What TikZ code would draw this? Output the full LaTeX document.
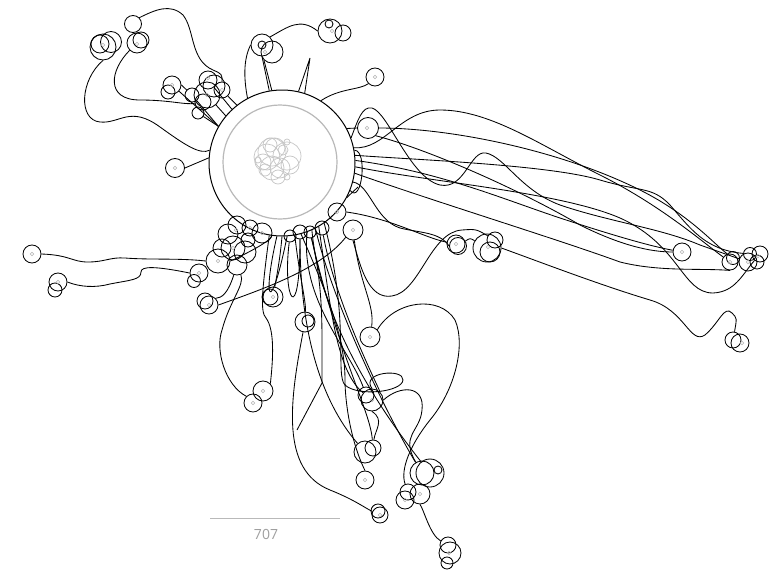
\documentclass[tikz,border=0pt]{standalone}
\usepackage{fontspec}
\newfontfamily\labfont{Open Sans}
\newcommand\blobat[4]{\node[blob,minimum size=#4pt] (#1) at (#2,#3) {};}
\newcommand\dotat[3]{\node[gdot] (#1) at (#2,#3) {};}
\begin{document}
\begin{tikzpicture}[x=1pt,y=-1pt,
  blob/.style={circle,draw=black,line width=0.85pt,inner sep=0pt},
  gdot/.style={circle,draw=gray!60,line width=0.5pt,inner sep=0pt,minimum size=3.4pt},
  wire/.style={draw=black,line width=0.85pt},
  ghost/.style={draw=gray!45,line width=0.7pt}]
\useasboundingbox (0,0) rectangle (774,573);
\fill[white] (0,0) rectangle (774,573);

% hub
\node[circle,draw,line width=1pt,minimum size=146pt,inner sep=0pt] (hub) at (282,163) {};
\node[circle,draw=gray!55,line width=1.2pt,minimum size=114pt,inner sep=0pt] (inner) at (280,162) {};
\foreach \x/\y/\r in {275/148/10,272/152/14,267/157/13,287/156/14,280/168/10,272/168/12,263/162/8,287/142/3,258/160/3,287/177/3,278/177/7,270/145/7,290/165/9,265/170/6,283/150/5}
  \draw[ghost] (\x,\y) circle[radius=\r pt];

% clusters
\blobat{a1}{103}{47}{26}\blobat{a2}{111}{42}{21}\blobat{a3}{100}{44}{18}\dotat{da}{103}{45}
\blobat{b1}{133}{24}{17}\blobat{b2}{137}{43}{20}\blobat{b3}{141}{40}{16}\dotat{db}{137}{44}
\blobat{c1}{172}{85}{18}\blobat{c2}{168}{92}{14}\dotat{dc}{172}{85}
\blobat{d1}{207}{95}{26}\blobat{d2}{208}{80}{18}\blobat{d3}{222}{90}{16}\blobat{d4}{203}{102}{16}\blobat{d5}{198}{113}{12}\blobat{d6}{192}{95}{14}\blobat{d7}{214}{86}{22}
\dotat{dd1}{207}{95}\dotat{dd2}{208}{78}\dotat{dd3}{222}{90}
\blobat{t1}{262}{45}{22}\blobat{t2}{272}{52}{22}\blobat{t3}{262}{45}{8}\dotat{dt}{265}{52}
\blobat{e1}{330}{31}{24}\blobat{e2}{343}{33}{16}\blobat{e3}{329}{24}{8}\dotat{de}{332}{31}
\blobat{f1}{375}{77}{18}\dotat{df}{375}{77}
\blobat{g1}{175}{168}{19}\dotat{dg}{175}{168}
\blobat{h1}{368}{128}{21}\dotat{dh}{367}{128}
\blobat{j1}{353}{230}{20}\dotat{dj1}{353}{230}
\blobat{j2}{337}{212}{18}\dotat{dj2}{337}{212}
\blobat{k1}{456}{244}{18}\blobat{k2}{458}{246}{17}\dotat{dk}{456}{244}
\blobat{l1}{487}{248}{28}\blobat{l2}{495}{240}{16}\blobat{l3}{490}{252}{20}\dotat{dl}{488}{247}
\blobat{m1}{682}{252}{18}\dotat{dm}{682}{252}
\blobat{n1}{730}{262}{16}\blobat{n2}{733}{258}{13}\blobat{n3}{748}{262}{18}\blobat{n4}{750}{254}{13}\blobat{n5}{760}{254}{16}\blobat{n6}{757}{262}{14}
\dotat{dn1}{730}{262}\dotat{dn2}{748}{262}\dotat{dn3}{758}{256}
\blobat{o1}{740}{343}{18}\blobat{o2}{733}{340}{16}\dotat{do}{742}{343}
\blobat{p1}{32}{254}{18}\dotat{dp}{32}{254}
\blobat{q1}{58}{282}{18}\blobat{q2}{55}{290}{14}\dotat{dq}{58}{282}
\blobat{r1}{199}{273}{18}\blobat{r2}{194}{281}{13}\dotat{dr}{199}{273}
\blobat{s1}{218}{261}{24}\dotat{ds}{218}{261}
\blobat{w1}{209}{305}{18}\blobat{w2}{205}{301}{16}\dotat{dw}{209}{305}
\blobat{u1}{273}{297}{20}\blobat{u2}{270}{297}{16}\dotat{du}{273}{297}
\blobat{v1}{305}{322}{20}\blobat{v2}{308}{321}{12}
\blobat{x1}{370}{337}{20}\dotat{dx}{370}{337}
\blobat{y1}{263}{391}{20}\blobat{y2}{253}{403}{18}\dotat{dy1}{263}{391}\dotat{dy2}{253}{403}
\blobat{z1}{372}{400}{22}\blobat{z2}{366}{395}{16}\dotat{dz}{372}{400}
\blobat{aa1}{365}{452}{22}\blobat{aa2}{373}{448}{16}
\blobat{ab1}{365}{480}{18}\dotat{dab}{365}{480}
\blobat{ac1}{430}{473}{28}\blobat{ac2}{422}{473}{24}\blobat{ac3}{438}{470}{8}
\blobat{ad1}{405}{500}{18}\blobat{ad2}{420}{494}{20}\blobat{ad3}{408}{492}{16}\dotat{dad1}{405}{500}\dotat{dad2}{420}{494}
\blobat{ae1}{380}{515}{16}\blobat{ae2}{378}{511}{14}\dotat{dae}{380}{515}
\blobat{af1}{448}{545}{16}\blobat{af2}{450}{553}{22}\blobat{af3}{447}{563}{12}\dotat{daf}{449}{553}
% clusters under hub
\blobat{h2}{262}{233}{20}\blobat{h3}{233}{248}{24}\blobat{h4}{237}{265}{20}\blobat{h5}{237}{225}{18}
\blobat{h6}{250}{228}{16}\blobat{h7}{248}{240}{14}\blobat{h8}{300}{232}{14}\blobat{h9}{310}{232}{12}\blobat{h10}{322}{228}{14}
\blobat{h11}{222}{248}{18}\blobat{h12}{245}{252}{22}\blobat{h13}{228}{234}{20}\blobat{h14}{290}{236}{12}
\dotat{dh2}{262}{233}\dotat{dh3}{233}{248}\dotat{dh6}{250}{228}\dotat{dh13}{236}{230}

% right group
\draw[wire] (h1.east) .. controls (450,128) and (560,150) .. (640,190) .. controls (690,215) and (715,245) .. (n2);
\draw[wire] (hub.12) .. controls (385,150) and (400,110) .. (440,110) .. controls (490,110) and (540,145) .. (600,175) .. controls (660,205) and (700,240) .. (n1);
\draw[wire] (hub.20) .. controls (358,120) and (362,106) .. (372,108) .. controls (388,112) and (410,178) .. (440,185) .. controls (465,190) and (470,150) .. (486,153) .. controls (505,157) and (520,190) .. (560,205) .. controls (610,222) and (660,228) .. (700,245) .. controls (720,252) .. (n3);
\draw[wire] (hub.6) .. controls (420,160) and (550,165) .. (600,180) .. controls (640,192) and (652,186) .. (670,205) .. controls (690,228) and (705,250) .. (n4);
\draw[wire] (hub.2) .. controls (440,172) and (500,198) .. (560,218) .. controls (615,236) and (650,246) .. (m1);
\draw[wire] (hub.-3) .. controls (430,182) and (560,192) .. (620,218) .. controls (680,245) and (682,293) .. (713,293) .. controls (735,292) and (742,275) .. (n5);
\draw[wire] (hub.-8) .. controls (430,200) and (560,240) .. (620,262) .. controls (660,272) and (700,268) .. (n1.south);
\draw[wire] (h1.south east) .. controls (430,150) and (520,190) .. (580,225) .. controls (620,245) and (650,252) .. (m1.west);
\draw[wire] (j2.east) .. controls (390,218) and (425,238) .. (k1);
\draw[wire] (hub.-15) .. controls (370,185) and (375,220) .. (400,228) .. controls (420,233) and (440,232) .. (k2.west);
\draw[wire] (k2) .. controls (470,238) .. (l1);
\draw[wire] (j1.south) .. controls (360,265) and (368,300) .. (392,296) .. controls (420,292) and (430,232) .. (462,230) .. controls (476,229) .. (l2);
\draw[wire] (l1.east) .. controls (540,262) and (600,285) .. (650,300) .. controls (685,310) and (690,345) .. (705,335) .. controls (720,322) and (724,305) .. (732,313) .. controls (737,318) .. (o2);
\draw[wire] (x1.north east) .. controls (395,300) and (440,295) .. (455,320) .. controls (466,345) and (455,390) .. (430,420) .. controls (410,445) and (400,470) .. (ad3);

% left group
\draw[wire] (p1.east) .. controls (70,255) and (72,262) .. (88,262) .. controls (105,262) and (110,257) .. (125,258) .. controls (150,260) and (180,258) .. (s1.west);
\draw[wire] (q1.east) .. controls (80,287) and (95,288) .. (110,284) .. controls (130,280) and (141,280) .. (141,272) .. controls (141,266) and (155,266) .. (r1.west);
\draw[wire] (w1.north east) .. controls (222,298) and (228,293) .. (h4);
\draw[wire] (s1.east) .. controls (250,252) and (272,240) .. (hub.-98);
\draw[wire] (w1.east) .. controls (260,290) and (320,270) .. (j1.south west);
\draw[wire] (a1.south) .. controls (80,80) and (78,120) .. (100,122) .. controls (120,124) and (130,105) .. (160,127) .. controls (185,145) and (200,155) .. (hub.170);
\draw[wire] (b2.south west) .. controls (110,70) and (105,100) .. (140,100) .. controls (170,100) and (185,105) .. (d4);
\draw[wire] (b1.north east) .. controls (155,10) and (170,3) .. (183,15) .. controls (195,30) and (190,60) .. (213,70) .. controls (222,74) .. (d3);
\draw[wire] (c1.east) -- (d6);
\draw[wire] (c1) -- (hub.150);
\draw[wire] (d5) -- (hub.150);
\draw[wire] (d6) -- (hub.150);
\draw[wire] (d1) -- (hub.140);
\draw[wire] (d3) -- (hub.128);
\draw[wire] (d2) -- (hub.133);

% top
\draw[wire] (t1.west) .. controls (243,60) and (244,80) .. (hub.118);
\draw[wire] (t1.south) -- (hub.100);
\draw[wire] (t2.south west) -- (hub.98);
\draw[wire] (t1.north east) .. controls (288,27) and (300,17) .. (e1.west);
\coordinate (spk) at (310,58);
\draw[wire] (hub.77) -- (spk) -- (hub.72);
\draw[wire] (f1.south west) .. controls (360,90) and (340,88) .. (hub.58);
\draw[wire] (g1.east) -- (hub.176);
\draw[wire] (hub.28) -- (h1.west);
\coordinate (rs1) at (358,187);
\draw[wire] (hub.-28) -- (rs1);
\draw[wire] (hub.10) .. controls (368,150) and (362,205) .. (hub.-22);

% bottom
\draw[wire] (hub.-60) .. controls (330,300) and (335,370) .. (z1);
\draw[wire] (hub.-70) .. controls (300,300) and (350,350) .. (z2);
\draw[wire] (j1) .. controls (360,285) and (375,305) .. (x1);
\draw[wire] (h8) .. controls (300,330) and (320,400) .. (aa1);
\draw[wire] (h9) .. controls (340,360) and (370,410) .. (aa2);
\draw[wire] (hub.-55) .. controls (350,320) and (335,375) .. (345,385) .. controls (358,397) and (402,392) .. (403,380) .. controls (404,368) and (360,372) .. (z1.north);
\draw[wire] (hub.-66) .. controls (320,320) and (380,410) .. (ac1);
\draw[wire] (h10) .. controls (335,300) and (375,380) .. (z1.north east);
\draw[wire] (hub.-63) .. controls (335,310) and (390,420) .. (ac2);
\draw[wire] (v1) .. controls (290,400) and (280,470) .. (330,490) .. controls (355,500) and (365,508) .. (ae1);
\coordinate (vt) at (297,430);
\draw[wire] (h9) .. controls (322,280) and (322,320) .. (322,345) -- (322,383) -- (vt);
\draw[wire] (y2.north west) .. controls (225,385) and (215,350) .. (222,330) .. controls (230,300) and (245,285) .. (h4);
\draw[wire] (y1.north east) .. controls (273,360) and (275,330) .. (266,318) .. controls (260,312) and (262,290) .. (hub.-100);
\draw[wire] (z1.south) .. controls (385,420) and (375,430) .. (aa2);
\draw[wire] (ab1.north) .. controls (350,440) and (345,400) .. (345,380) .. controls (345,340) and (330,300) .. (hub.-75);
\draw[wire] (hub.-90) .. controls (280,260) and (276,280) .. (u1);
\draw[wire] (hub.-80) .. controls (300,280) and (306,300) .. (v1);
\draw[wire] (hub.-94) .. controls (262,300) and (270,320) .. (hub.-86);
\draw[wire] (h14) .. controls (282,300) and (300,330) .. (h8);
\draw[wire] (ad2.south) .. controls (424,510) and (430,535) .. (af1);
\draw[wire] (z1.east) .. controls (400,385) and (425,385) .. (422,410) .. controls (420,432) and (400,435) .. (ac2);

% scale label
\coordinate (sl) at (210,518);
\coordinate (sr) at (340,518);
\draw[gray!55,line width=0.6pt] (sl) -- (sr);
\node[text=gray!75,font=\labfont\fontsize{14}{14}\selectfont,inner sep=0pt] (lbl) at (266,534) {707};
\end{tikzpicture}
\end{document}
